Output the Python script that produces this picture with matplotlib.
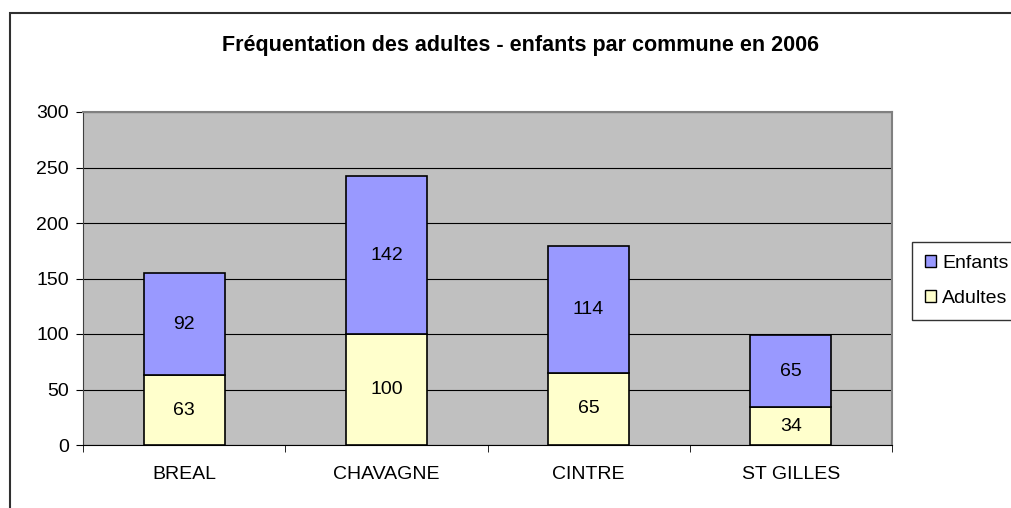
import matplotlib
matplotlib.use("Agg")
import matplotlib.pyplot as plt
from matplotlib.patches import Rectangle, Patch
import numpy as np

categories = ["BREAL", "CHAVAGNE", "CINTRE", "ST GILLES"]
adultes = [63, 100, 65, 34]
enfants = [92, 142, 114, 65]
title = "Fréquentation des adultes - enfants par commune en 2006"
yticks = [0, 50, 100, 150, 200, 250, 300]

plt.rcParams['font.family'] = ['Liberation Sans', 'DejaVu Sans']

W, H = 1011, 508
fs = 14
fig = plt.figure(figsize=(W/100, H/100), dpi=100)
ax = fig.add_axes([83/W, 1-445/H, (892-83)/W, (445-112)/H])

c_enf = "#9999FF"
c_adu = "#FFFFCC"
x = np.arange(len(categories))
bw = 0.4
ax.bar(x, adultes, bw, color=c_adu, edgecolor="black", linewidth=1.2, zorder=3)
ax.bar(x, enfants, bw, bottom=adultes, color=c_enf, edgecolor="black", linewidth=1.2, zorder=3)
for i in range(len(categories)):
    ax.text(x[i], adultes[i]/2, str(adultes[i]), ha="center", va="center", fontsize=fs, zorder=4)
    ax.text(x[i], adultes[i] + enfants[i]/2, str(enfants[i]), ha="center", va="center", fontsize=fs, zorder=4)

ax.set_facecolor("#C0C0C0")
ax.set_xlim(-0.5, len(categories)-0.5)
ax.set_ylim(0, 300)
ax.set_yticks(yticks)
ax.set_yticklabels([str(v) for v in yticks], fontsize=fs)
ax.yaxis.grid(True, color="black", linewidth=0.8, zorder=1)
ax.set_axisbelow(True)
ax.set_xticks(x)
ax.set_xticklabels(categories, fontsize=fs)
ax.tick_params(axis="x", length=0, pad=15)
ax.set_xticks(np.arange(-0.5, len(categories)), minor=True)
ax.tick_params(axis="x", which="minor", length=5, direction="out", color="black")
ax.tick_params(axis="y", length=5, direction="out", color="black", pad=5)
for s in ["top", "right"]:
    ax.spines[s].set_color("#808080")
    ax.spines[s].set_linewidth(1.5)
ax.spines["left"].set_color("#404040")
ax.spines["bottom"].set_color("black")

fig.text(520/W, 1-45/H, title, ha="center", va="center", fontsize=15.5, fontweight="bold")

# outer chart border
fig.patches.append(Rectangle((10/W, -0.1), 1.2, 1-13/H+0.1, transform=fig.transFigure,
                             fill=False, edgecolor="#303030", linewidth=1.5))

handles = [Patch(facecolor=c_enf, edgecolor="black", label="Enfants"),
           Patch(facecolor=c_adu, edgecolor="black", label="Adultes")]
leg = fig.legend(handles=handles, loc="upper left", bbox_to_anchor=(912/W, 1-242/H),
                 fontsize=fs, frameon=True, fancybox=False, handlelength=0.6, handleheight=0.6,
                 handletextpad=0.3, borderpad=0.65, labelspacing=0.95, borderaxespad=0)
leg.get_frame().set_edgecolor("black")
leg.get_frame().set_linewidth(1)

fig.savefig("out.png", dpi=100)
